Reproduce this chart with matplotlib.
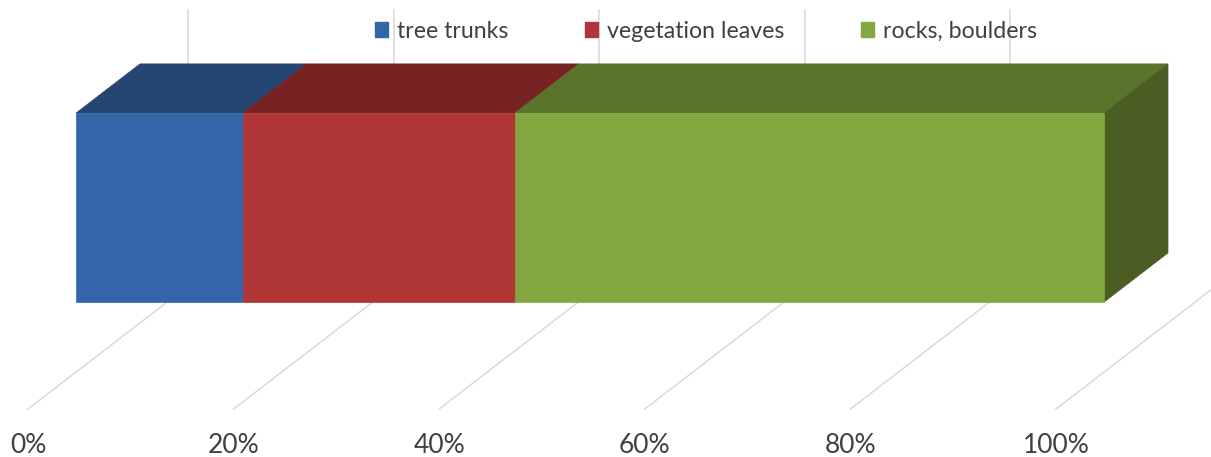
import matplotlib
matplotlib.use("Agg")
import matplotlib.pyplot as plt
from matplotlib.patches import Polygon, Patch

# data (share of each class, %)
classes = ["tree trunks", "vegetation leaves", "rocks, boulders"]
shares = [16.2, 26.5, 57.3]
ticks = [0, 20, 40, 60, 80, 100]
tick_labels = ["0%", "20%", "40%", "60%", "80%", "100%"]

front_cols = ["#3465A8", "#B03535", "#84A840"]
top_cols = ["#254573", "#772323", "#5B742C"]
side_col = "#4A5E24"
grid_col = "#D9D9D9"

# layout of the fake 3d box (x in %, y in pixels from the bottom)
W, H = 1211, 457
px_per_pct = 10.28
x0_px = 28
depth_x = 160 / px_per_pct   # full depth offset along x
depth_y = 123                # full depth offset along y
floor_y = 48
wall_top = 447
d0, d1 = 0.3, 0.7            # depth range of the bar
bar_lo, bar_hi = 70, 259     # bar height above the floor


def proj(v, h, d):
    return (v + d * depth_x, floor_y + d * depth_y + h)


fig = plt.figure(figsize=(W / 100, H / 100), dpi=100)
ax = fig.add_axes([0, 0, 1, 1])
ax.set_xlim(-x0_px / px_per_pct, (W - x0_px) / px_per_pct)
ax.set_ylim(0, H)
ax.axis("off")

# floor + back wall gridlines
for t in ticks:
    xa, ya = proj(t, 0, 0)
    xb, yb = proj(t, 0, 1)
    ax.plot([xa, xb], [ya, yb], color=grid_col, lw=1.1, zorder=1)
    ax.plot([xb, xb], [yb, wall_top], color=grid_col, lw=1.1, zorder=1)

# stacked bar
left = 0
for i, s in enumerate(shares):
    right = left + s
    front = [proj(left, bar_lo, d0), proj(right, bar_lo, d0),
             proj(right, bar_hi, d0), proj(left, bar_hi, d0)]
    top = [proj(left, bar_hi, d0), proj(right, bar_hi, d0),
           proj(right, bar_hi, d1), proj(left, bar_hi, d1)]
    ax.add_patch(Polygon(top, closed=True, fc=top_cols[i], ec=top_cols[i], lw=0.5, zorder=3))
    ax.add_patch(Polygon(front, closed=True, fc=front_cols[i], ec=front_cols[i], lw=0.5, zorder=4))
    left = right

side = [proj(left, bar_lo, d0), proj(left, bar_lo, d1),
        proj(left, bar_hi, d1), proj(left, bar_hi, d0)]
ax.add_patch(Polygon(side, closed=True, fc=side_col, ec=side_col, lw=0.5, zorder=3))

# tick labels
for t, lab in zip(ticks, tick_labels):
    ax.text(t, 11.5, lab, ha="center", va="center", fontsize=19,
            family="Lato", color="#404040")

handles = [Patch(fc=c, ec=c) for c in front_cols]
ax.legend(handles, classes, loc="center", bbox_to_anchor=(706 / W, 1 - 31 / H),
          ncol=3, frameon=False, prop={"family": "Lato", "size": 16.7},
          handlelength=0.55, handleheight=0.6, handletextpad=0.4,
          columnspacing=3.3, labelcolor="#404040")

fig.savefig("out.png", dpi=100)
